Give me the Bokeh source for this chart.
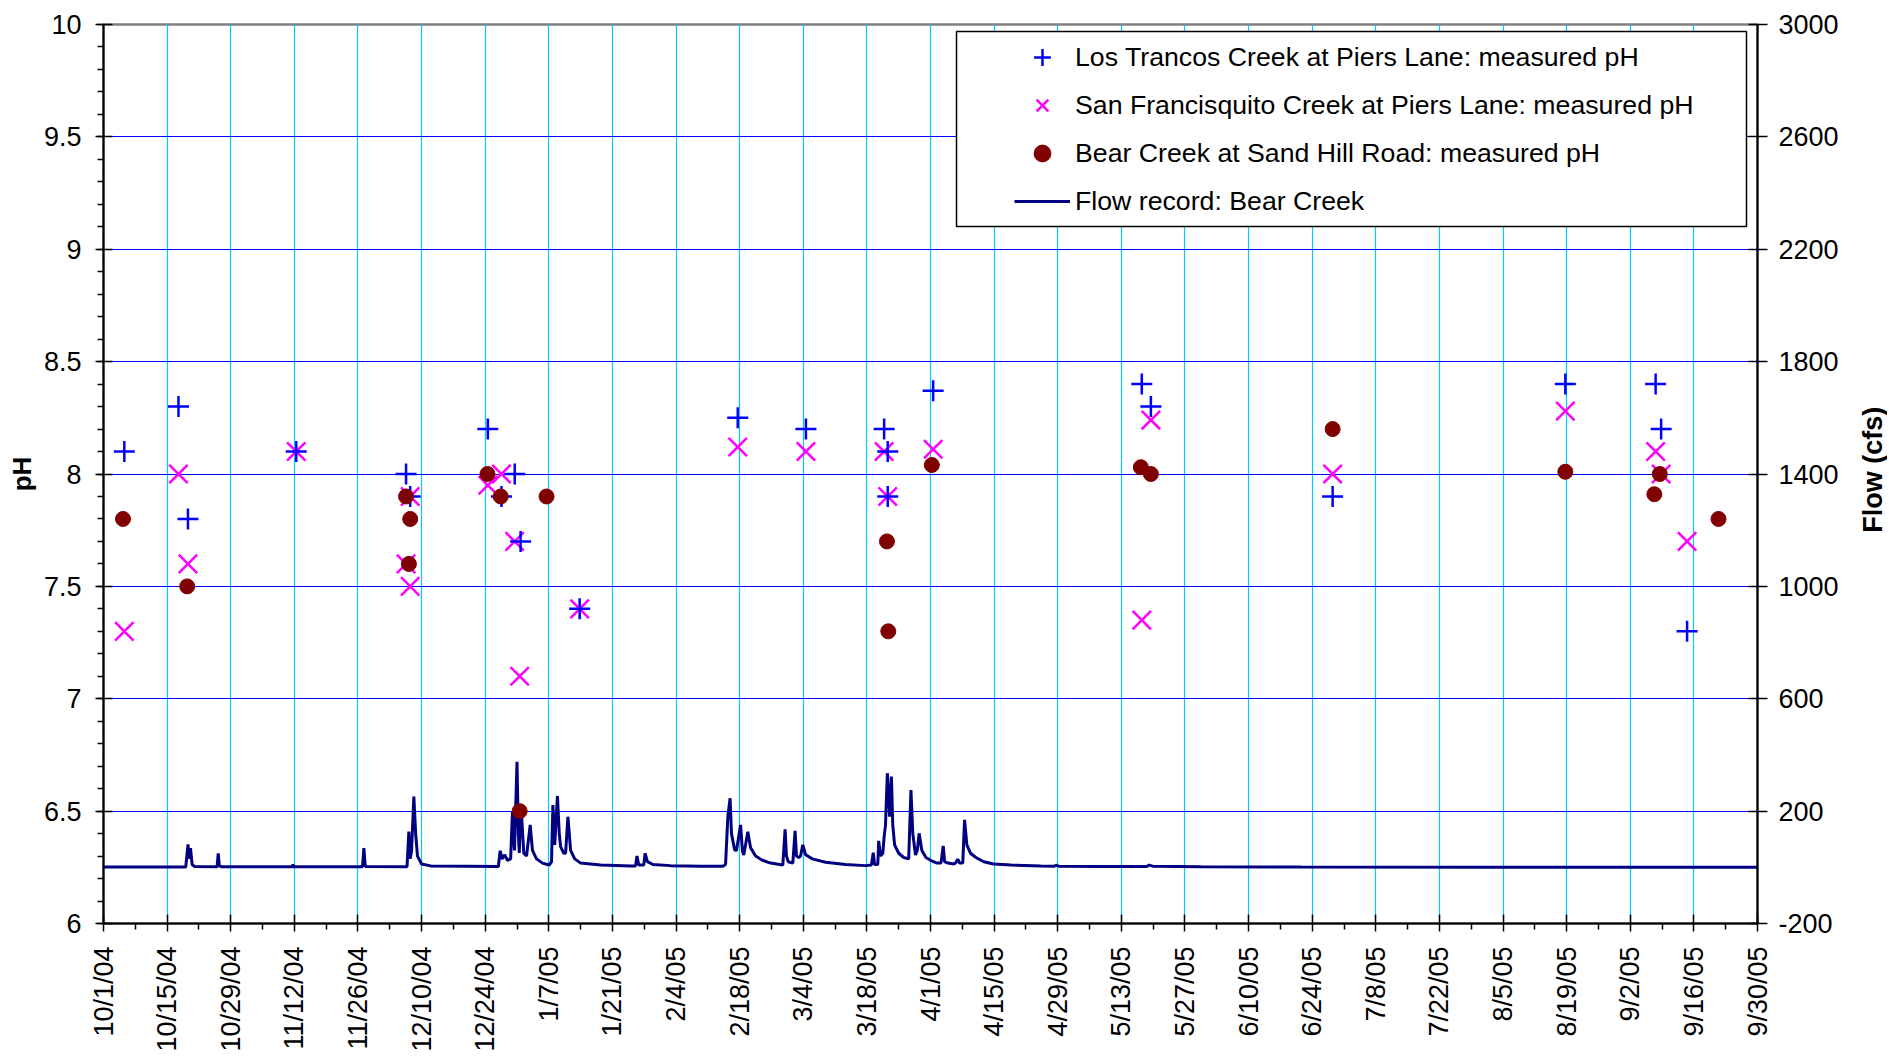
import math
import pandas as pd
from bokeh.plotting import figure
from bokeh.layouts import row
from bokeh.models import (Range1d, LinearAxis, FixedTicker, Legend, LegendItem,
                          BoxAnnotation, ColumnDataSource)
from bokeh.core.properties import value
from bokeh.embed import file_html
from bokeh.resources import INLINE

FONT = "Liberation Sans"

# ---------------- data ----------------
x_tick_labels = ["10/1/04", "10/15/04", "10/29/04", "11/12/04", "11/26/04", "12/10/04",
                 "12/24/04", "1/7/05", "1/21/05", "2/4/05", "2/18/05", "3/4/05", "3/18/05",
                 "4/1/05", "4/15/05", "4/29/05", "5/13/05", "5/27/05", "6/10/05", "6/24/05",
                 "7/8/05", "7/22/05", "8/5/05", "8/19/05", "9/2/05", "9/16/05", "9/30/05"]
ph_ticks = [6, 6.5, 7, 7.5, 8, 8.5, 9, 9.5, 10]
ph_tick_labels = ["6", "6.5", "7", "7.5", "8", "8.5", "9", "9.5", "10"]
flow_ticks = [-200, 200, 600, 1000, 1400, 1800, 2200, 2600, 3000]
flow_tick_labels = ["-200", "200", "600", "1000", "1400", "1800", "2200", "2600", "3000"]

lt_dates = ["2004-10-05 14:00", "2004-10-17 12:00", "2004-10-19 14:00", "2004-11-12 10:00",
            "2004-12-06 14:00", "2004-12-07 12:00", "2004-12-24 14:00", "2004-12-27 14:00",
            "2004-12-30 12:00", "2004-12-31 19:00", "2005-01-13 19:00", "2005-02-17 14:00",
            "2005-03-04 14:00", "2005-03-21 19:00", "2005-03-22 14:00", "2005-03-22 14:00",
            "2005-04-01 14:00", "2005-05-17 12:00", "2005-05-19 12:00", "2005-06-28 12:00",
            "2005-08-18 17:00", "2005-09-07 14:00", "2005-09-08 19:00", "2005-09-14 12:00"]
lt_ph = [8.1, 8.3, 7.8, 8.1, 8.0, 7.9, 8.2, 7.9, 8.0, 7.7, 7.4, 8.25,
         8.2, 8.2, 8.1, 7.9, 8.37, 8.4, 8.3, 7.9, 8.4, 8.4, 8.2, 7.3]

sf_dates = ["2004-10-05 14:00", "2004-10-17 12:00", "2004-10-19 14:00", "2004-11-12 10:00",
            "2004-12-06 14:00", "2004-12-07 12:00", "2004-12-07 12:00", "2004-12-24 14:00",
            "2004-12-27 14:00", "2004-12-30 12:00", "2004-12-31 14:00", "2005-01-13 19:00",
            "2005-02-17 14:00", "2005-03-04 14:00", "2005-03-21 19:00", "2005-03-22 14:00",
            "2005-04-01 14:00", "2005-05-17 12:00", "2005-05-19 12:00", "2005-06-28 12:00",
            "2005-08-18 17:00", "2005-09-07 14:00", "2005-09-08 19:00", "2005-09-14 12:00"]
sf_ph = [7.3, 8.0, 7.6, 8.1, 7.6, 7.9, 7.5, 7.95, 8.0, 7.7, 7.1, 7.4,
         8.12, 8.1, 8.1, 7.9, 8.11, 7.35, 8.24, 8.0, 8.28, 8.1, 8.0, 7.7]

bear_dates = ["2004-10-05 07:00", "2004-10-19 10:00", "2004-12-06 14:00", "2004-12-07 12:00",
              "2004-12-07 05:00", "2004-12-24 12:00", "2004-12-27 10:00", "2004-12-31 14:00",
              "2005-01-06 12:00", "2005-03-22 10:00", "2005-03-22 17:00", "2005-04-01 07:00",
              "2005-05-17 07:00", "2005-05-19 12:00", "2005-06-28 12:00", "2005-08-18 17:00",
              "2005-09-07 07:00", "2005-09-08 12:00", "2005-09-21 10:00"]
bear_ph = [7.8, 7.5, 7.9, 7.8, 7.6, 8.0, 7.9, 6.5, 7.9, 7.7, 7.3, 8.04,
           8.03, 8.0, 8.2, 8.01, 7.91, 8.0, 7.8]

# flow record, Bear Creek: days since 2004-10-01 and flow (cfs)
flow_day = [0, 18.1, 18.6, 18.85, 19.15, 19.5, 20.0, 25.0, 25.25, 25.5, 26.0,
            41.6, 41.7, 41.8, 57.0, 57.3, 57.6, 66.8, 67.2, 67.5, 67.8, 68.3, 68.7,
            69.1, 70.0, 72.0, 86.9, 87.3, 87.7, 88.3, 88.9, 89.6, 90.0, 90.45, 91.0,
            91.3, 91.5, 91.7, 92.0, 92.5, 93.1, 93.9, 94.4, 95.3, 96.6, 98.1, 98.6,
            98.9, 99.3, 99.9, 100.3, 100.6, 101.3, 101.7, 102.2, 102.8, 103.7, 105.0,
            109.4, 116.0, 117.1, 117.4, 117.8, 118.9, 119.2, 119.7, 120.9, 124.8,
            131.4, 136.3, 136.9, 137.4, 137.9, 138.2, 138.9, 139.3, 140.2, 140.6,
            140.9, 141.3, 141.8, 142.4, 143.5, 145.0, 146.8, 149.5, 150.0, 150.3,
            150.7, 151.7, 152.2, 152.5, 153.0, 153.4, 153.9, 154.5, 156.0, 158.9,
            163.3, 167.7, 169.0, 169.4, 169.7, 170.4, 170.6, 171.0, 171.5, 171.8,
            172.1, 172.5, 172.8, 173.0, 173.4, 173.7, 174.1, 175.0, 176.1, 177.2,
            177.7, 178.1, 178.7, 179.1, 179.5, 180.1, 181.0, 182.0, 183.4, 184.3,
            184.8, 185.1, 185.8, 187.1, 187.5, 188.0, 188.4, 189.1, 189.5, 190.0,
            190.8, 192.0, 193.7, 195.9, 199.7, 206.3, 209.3, 209.6, 210.2, 219.5,
            229.6, 230.1, 230.9, 241.5, 263.5, 307.5, 364]
flow_cfs = [1, 1, 82, 30, 68, 10, 3, 2, 50, 5, 2,
            2, 11, 2, 2, 68, 3, 2, 127, 30, 60, 252, 120,
            40, 12, 5, 3, 59, 30, 44, 25, 30, 198, 60, 376,
            120, 51, 150, 186, 50, 40, 151, 60, 30, 15, 8, 20,
            222, 80, 254, 120, 74, 50, 50, 180, 60, 30, 15,
            8, 5, 5, 40, 8, 8, 50, 20, 10, 6,
            4, 4, 10, 180, 246, 120, 62, 60, 151, 60,
            44, 80, 127, 70, 40, 25, 15, 8, 135, 40,
            20, 15, 130, 40, 35, 40, 80, 45, 30, 18,
            10, 6, 8, 52, 10, 10, 94, 40, 50, 109,
            150, 335, 250, 180, 323, 150, 80, 50, 35, 30,
            275, 120, 44, 60, 121, 60, 35, 25, 15, 15,
            76, 20, 15, 12, 15, 29, 15, 15, 169, 80,
            50, 35, 20, 12, 8, 5, 4, 8, 4, 3,
            3, 8, 4, 2, 1, 0.5, 0.5]

right_title = "Flow (cfs)"

# ---------------- conversion to axis units (days since start) ----------------
start = pd.Timestamp("2004-10-01")
def to_day(dates):
    return list((pd.to_datetime(pd.Series(dates)) - start) / pd.Timedelta(days=1))

tick_days = [int(round(d)) for d in to_day(pd.to_datetime(x_tick_labels, format="%m/%d/%y"))]
minor_days = [(a + b) / 2 for a, b in zip(tick_days[:-1], tick_days[1:])]

src_lt = ColumnDataSource(dict(x=to_day(lt_dates), y=lt_ph))
src_sf = ColumnDataSource(dict(x=to_day(sf_dates), y=sf_ph))
src_bear = ColumnDataSource(dict(x=to_day(bear_dates), y=bear_ph))
src_flow = ColumnDataSource(dict(x=flow_day, y=flow_cfs))

H = 1054
# ---------------- main figure ----------------
p = figure(width=1845, height=H, output_backend="svg", toolbar_location=None,
           x_range=Range1d(tick_days[0], tick_days[-1]), y_range=Range1d(6, 10),
           min_border_left=103, min_border_right=88, min_border_top=24, min_border_bottom=130)
p.extra_y_ranges = {"flow": Range1d(flow_ticks[0], flow_ticks[-1])}
p.background_fill_color = "white"
p.border_fill_color = "white"
p.outline_line_color = "#808080"
p.outline_line_width = 2.5

r_flow = p.line("x", "y", source=src_flow, y_range_name="flow", line_color="#000080", line_width=3)
r_sf = p.scatter("x", "y", source=src_sf, marker="x", size=26, line_color="#FF00FF", line_width=2.5)
r_lt = p.scatter("x", "y", source=src_lt, marker="cross", size=21, line_color="#0000FF", line_width=2.5)
r_bear = p.scatter("x", "y", source=src_bear, marker="circle", size=15,
                   fill_color="#800000", line_color="#800000")

# x axis
xax = p.below[0]
xax.ticker = FixedTicker(ticks=tick_days, minor_ticks=minor_days)
xax.major_label_overrides = {d: lab for d, lab in zip(tick_days, x_tick_labels)}
xax.major_label_orientation = math.pi / 2
xax.major_label_text_font = FONT
xax.major_label_text_font_size = "27px"
xax.major_label_text_color = "black"
xax.major_label_standoff = 15
xax.axis_line_color = "black"
xax.axis_line_width = 2
xax.major_tick_line_color = "black"
xax.major_tick_line_width = 1.5
xax.major_tick_in = 9
xax.major_tick_out = 8
xax.minor_tick_line_color = "black"
xax.minor_tick_line_width = 1.5
xax.minor_tick_in = 0
xax.minor_tick_out = 6

# left axis
yax = p.left[0]
yax.ticker = FixedTicker(ticks=ph_ticks, minor_ticks=[round(6 + 0.1 * i, 1) for i in range(41)])
yax.major_label_overrides = {v: lab for v, lab in zip(ph_ticks, ph_tick_labels)}
yax.major_label_text_font = FONT
yax.major_label_text_font_size = "27px"
yax.major_label_text_color = "black"
yax.major_label_standoff = 14
yax.axis_line_color = "black"
yax.axis_line_width = 2
yax.major_tick_line_color = "black"
yax.major_tick_line_width = 1.5
yax.major_tick_in = 9
yax.major_tick_out = 8
yax.minor_tick_line_color = "black"
yax.minor_tick_line_width = 1.5
yax.minor_tick_in = 0
yax.minor_tick_out = 6
yax.axis_label = "pH"
yax.axis_label_text_font = FONT
yax.axis_label_text_font_size = "26px"
yax.axis_label_text_font_style = "bold"
yax.axis_label_text_color = "black"
yax.axis_label_standoff = 4

# right axis
rax = LinearAxis(y_range_name="flow", ticker=FixedTicker(ticks=flow_ticks, minor_ticks=[]))
rax.major_label_overrides = {v: lab for v, lab in zip(flow_ticks, flow_tick_labels)}
rax.major_label_text_font = FONT
rax.major_label_text_font_size = "27px"
rax.major_label_text_color = "black"
rax.major_label_standoff = 11
rax.axis_line_color = "black"
rax.axis_line_width = 2
rax.major_tick_line_color = "black"
rax.major_tick_line_width = 1.5
rax.major_tick_in = 9
rax.major_tick_out = 10
rax.minor_tick_line_color = None
p.add_layout(rax, "right")

# grids
p.xgrid.ticker = FixedTicker(ticks=tick_days[1:-1])
p.xgrid.grid_line_color = "#00CCFF"
p.xgrid.grid_line_width = 1.2
p.ygrid.ticker = FixedTicker(ticks=ph_ticks[1:-1])
p.ygrid.grid_line_color = "#0000FF"
p.ygrid.grid_line_width = 1.2

# legend box + legend
p.add_layout(BoxAnnotation(left=853, right=1643, bottom=697, top=892,
                           left_units="screen", right_units="screen",
                           top_units="screen", bottom_units="screen",
                           fill_color="white", fill_alpha=1.0,
                           line_color="black", line_width=1.5, line_alpha=1.0))
legend = Legend(items=[
    LegendItem(label="Los Trancos Creek at Piers Lane: measured pH", renderers=[r_lt]),
    LegendItem(label="San Francisquito Creek at Piers Lane: measured pH", renderers=[r_sf]),
    LegendItem(label="Bear Creek at Sand Hill Road: measured pH", renderers=[r_bear]),
    LegendItem(label="Flow record: Bear Creek", renderers=[r_flow]),
], location=(907, 697), orientation="vertical", glyph_width=56, glyph_height=42,
    spacing=6, padding=4, margin=0, label_standoff=5,
    label_text_font=FONT, label_text_font_size="26.7px", label_text_color="black",
    border_line_alpha=0, background_fill_alpha=0)
p.add_layout(legend)

# ---------------- narrow strip holding the right-hand axis title ----------------
t = figure(width=42, height=H, output_backend="svg", toolbar_location=None,
           x_axis_location=None, y_axis_location=None,
           x_range=Range1d(0, 42), y_range=Range1d(H, 0), min_border=0)
t.grid.visible = False
t.outline_line_color = None
t.background_fill_color = "white"
t.border_fill_color = "white"
t.text(x=[27], y=[522], text=[right_title], angle=math.pi / 2,
       text_align="center", text_baseline="middle",
       text_font=value(FONT), text_font_size="27px", text_font_style="bold",
       text_color="black")

layout = row(p, t, spacing=0)
open("out.html", "w").write(file_html(layout, INLINE))
